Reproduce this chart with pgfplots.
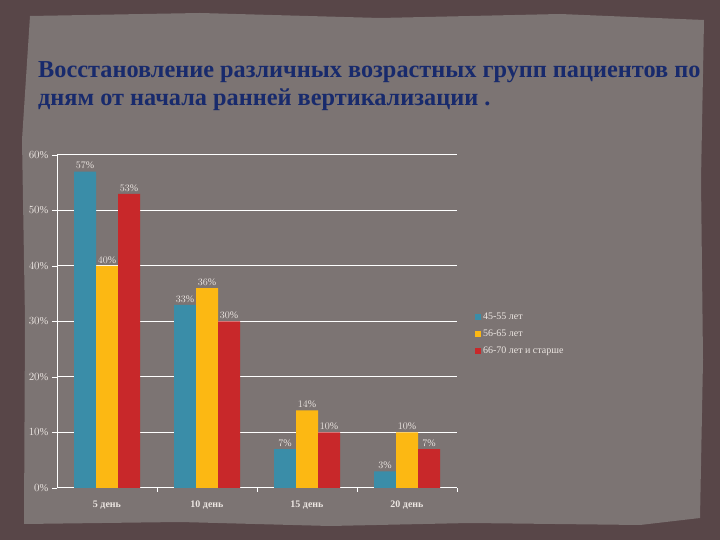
\documentclass[border=0pt]{standalone}
\usepackage{fontspec}
\setmainfont{Liberation Serif}
\usepackage{pgfplots}
\pgfplotsset{compat=1.18}
\definecolor{bgouter}{RGB}{88,70,72}
\definecolor{bginner}{RGB}{124,116,115}
\definecolor{titleblue}{RGB}{24,42,108}
\definecolor{cteal}{RGB}{58,141,168}
\definecolor{cyellow}{RGB}{252,184,19}
\definecolor{cred}{RGB}{200,40,42}
\definecolor{labelc}{RGB}{236,230,226}

\begin{document}
\begin{tikzpicture}[x=1pt,y=1pt]
% textured frame
\fill[bgouter] (0,0) rectangle (720,540);
\fill[bginner] (24,16) -- (180,18) -- (330,14) -- (470,17) -- (640,15) -- (700,22)
  -- (703,180) -- (701,360) -- (704,520) -- (560,526) -- (380,522) -- (200,527)
  -- (30,524) -- (22,400) -- (25,220) -- cycle;
\node[anchor=base west, inner sep=0pt, font=\bfseries\fontsize{24.3}{28}\selectfont, text=titleblue]
  at (38,462) {Восстановление различных возрастных групп пациентов по};
\node[anchor=base west, inner sep=0pt, font=\bfseries\fontsize{24.3}{28}\selectfont, text=titleblue]
  at (38,434) {дням от начала ранней вертикализации .};

\begin{axis}[
  at={(57pt,52pt)}, anchor=origin,
  width=400pt, height=333pt, scale only axis,
  xmin=0, xmax=4, ymin=0, ymax=60,
  ybar=0pt, bar width=22pt,
  axis lines*=left,
  axis line style={white, line width=1pt},
  xtick={0.5,1.5,2.5,3.5},
  xticklabels={5 день,10 день,15 день,20 день},
  major x tick style={draw=none},
  minor xtick={1,2,3,4},
  minor x tick style={white, line width=0.8pt},
  minor tick length=4pt,
  ytick={0,10,...,60},
  yticklabel={\pgfmathprintnumber{\tick}\%},
  major y tick style={white, line width=0.8pt},
  major tick length=5pt,
  tick align=outside,
  ymajorgrids, grid style={white, line width=1pt},
  ticklabel style={font=\fontsize{10.5}{10.5}\selectfont, text=labelc},
  xticklabel style={yshift=-4pt, font=\bfseries\fontsize{10}{10}\selectfont},
  nodes near coords={\pgfmathprintnumber{\pgfplotspointmeta}\%},
  every node near coord/.append style={font=\fontsize{10}{10}\selectfont, text=labelc, yshift=-1pt},
  legend style={at={(rel axis cs:1.037,0.538)}, anchor=north west,
    draw=none, fill=none, font=\fontsize{10}{10}\selectfont, text=labelc,
    row sep=5pt, legend cell align=left},
  legend image code/.code={\fill[#1] (0pt,-3pt) rectangle (6pt,3pt);},
]
\addplot[fill=cteal, draw=none] coordinates {(0.5,57) (1.5,33) (2.5,7) (3.5,3)};
\addplot[fill=cyellow, draw=none] coordinates {(0.5,40) (1.5,36) (2.5,14) (3.5,10)};
\addplot[fill=cred, draw=none] coordinates {(0.5,53) (1.5,30) (2.5,10) (3.5,7)};
\legend{45-55 лет,56-65 лет,66-70 лет и старше}
\end{axis}
\end{tikzpicture}
\end{document}
